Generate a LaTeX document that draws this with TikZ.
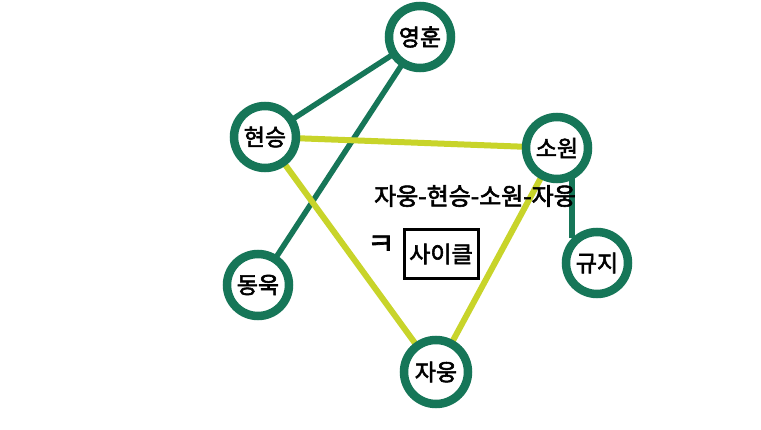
\documentclass[tikz,border=0pt]{standalone}
\usepackage{fontspec}
\newfontfamily\kr[AutoFakeBold=2.5]{Noto Sans CJK KR}
\definecolor{dg}{RGB}{22,118,88}
\definecolor{yg}{RGB}{200,212,42}
\tikzset{krfont/.style={font=\kr\bfseries\fontsize{23}{23}\selectfont}}
\begin{document}
\begin{tikzpicture}[x=1pt,y=-1pt,
  person/.style={circle,draw=dg,line width=8.5pt,fill=white,minimum size=62pt,inner sep=0pt,krfont},
  gline/.style={draw=dg,line width=5.5pt},
  yline/.style={draw=yg,line width=6pt}]
\useasboundingbox[fill=white] (0,0) rectangle (761,430);
\coordinate (c1) at (420,37);
\coordinate (c2) at (265,137);
\coordinate (c3) at (557,148);
\coordinate (c4) at (258,285);
\coordinate (c5) at (436,372);
\coordinate (c6) at (597,263);
\path[gline] (c1) -- (c2);
\path[gline] (c1) -- (c4);
\path[yline] (c2) -- (c3);
\path[yline] (c2) -- (c5);
\path[yline] (c3) -- (c5);
\node[person] (yh) at (c1) {영훈};
\node[person] (hs) at (c2) {현승};
\node[person] (dw) at (c4) {동욱};
\node[person,minimum size=64pt] (jw) at (c5) {자웅};
\node[person] (gj) at (c6) {규지};
\path[gline] (gj.north west) -- (gj.north west |- c3);
\node[person] (sw) at (c3) {소원};
\node[font=\kr\bfseries\fontsize{24}{24}\selectfont,inner sep=0pt] (cyc) at (475,196) {자웅-현승-소원-자웅};
\node[font=\kr\bfseries\fontsize{30}{30}\selectfont,inner sep=0pt] (arr) at (381,245) {ㅋ};
\node[draw=black,line width=3pt,minimum width=74pt,minimum height=49pt,krfont] (box) at (441,254) {사이클};
\end{tikzpicture}
\end{document}
